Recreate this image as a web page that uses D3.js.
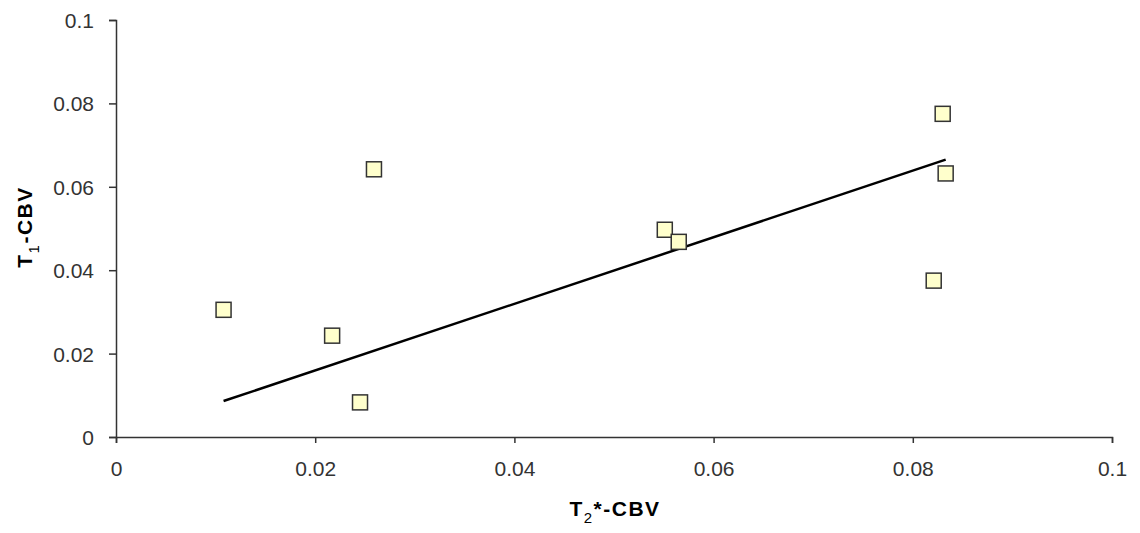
<!DOCTYPE html>
<html>
<head>
<meta charset="utf-8">
<script src="https://cdn.jsdelivr.net/npm/d3@7"></script>
<style>
  html, body { margin: 0; padding: 0; background: #fff; }
  svg { display: block; }
  text { font-family: "Liberation Sans", Arial, sans-serif; }
</style>
</head>
<body>
<svg id="chart" width="1140" height="533"></svg>
<script>
// Data
const xValues = [0.0108, 0.0217, 0.0245, 0.0259, 0.0551, 0.0565, 0.0821, 0.0830, 0.0833];
const yValues = [0.0305, 0.0243, 0.0083, 0.0642, 0.0497, 0.0468, 0.0375, 0.0775, 0.0632];
const xTicks = [0, 0.02, 0.04, 0.06, 0.08, 0.1];
const yTicks = [0, 0.02, 0.04, 0.06, 0.08, 0.1];
const xTickLabels = ["0", "0.02", "0.04", "0.06", "0.08", "0.1"];
const yTickLabels = ["0", "0.02", "0.04", "0.06", "0.08", "0.1"];

const svg = d3.select("#chart");
const pLeft = 116, pRight = 1112, pTop = 20, pBottom = 437;

const x = d3.scaleLinear().domain([0, 0.1]).range([pLeft, pRight]);
const y = d3.scaleLinear().domain([0, 0.1]).range([pBottom, pTop]);

// Axes
const xAxis = d3.axisBottom(x).tickValues(xTicks).tickSize(6).tickPadding(18)
  .tickFormat((d, i) => xTickLabels[i]);
const yAxis = d3.axisLeft(y).tickValues(yTicks).tickSize(7).tickPadding(15)
  .tickFormat((d, i) => yTickLabels[i]);

const gx = svg.append("g").attr("transform", `translate(0,${pBottom})`).call(xAxis);
const gy = svg.append("g").attr("transform", `translate(${pLeft},0)`).call(yAxis);

[gx, gy].forEach(g => {
  g.select(".domain").attr("stroke", "#333").attr("stroke-width", 1.5);
  g.selectAll(".tick line").attr("stroke", "#333").attr("stroke-width", 1.5);
  g.selectAll(".tick text").attr("fill", "#333").attr("font-size", 21)
    .attr("font-family", "Liberation Sans, Arial, sans-serif");
});
gy.selectAll(".tick text").attr("dy", "0.36em");

// Trend line: least squares through the origin
const data = xValues.map((v, i) => ({ x: v, y: yValues[i] }));
const sxy = d3.sum(data, d => d.x * d.y);
const sxx = d3.sum(data, d => d.x * d.x);
const slope = sxy / sxx;
const [xmin, xmax] = d3.extent(xValues);
const line = d3.line().x(d => x(d[0])).y(d => y(d[1]));
svg.append("path")
  .attr("d", line([[xmin, slope * xmin], [xmax, slope * xmax]]))
  .attr("fill", "none")
  .attr("stroke", "#000")
  .attr("stroke-width", 2.5);

// Markers
const size = 15;
svg.append("g").selectAll("rect").data(data).join("rect")
  .attr("x", d => x(d.x) - size / 2)
  .attr("y", d => y(d.y) - size / 2)
  .attr("width", size)
  .attr("height", size)
  .attr("fill", "#FFFFCC")
  .attr("stroke", "#333")
  .attr("stroke-width", 1.5);

// Axis titles
const xt = svg.append("text")
  .attr("x", 615)
  .attr("y", 516)
  .attr("text-anchor", "middle")
  .attr("font-size", 21)
  .attr("font-weight", "bold")
  .attr("letter-spacing", 1.5)
  .attr("fill", "#000");
xt.append("tspan").text("T");
xt.append("tspan").text("2").attr("font-size", 15).attr("font-weight", "normal").attr("dy", 7);
xt.append("tspan").text("*-CBV").attr("dy", -7);

const yt = svg.append("text")
  .attr("transform", `translate(32,227) rotate(-90)`)
  .attr("text-anchor", "middle")
  .attr("font-size", 21)
  .attr("font-weight", "bold")
  .attr("letter-spacing", 1.5)
  .attr("fill", "#000");
yt.append("tspan").text("T");
yt.append("tspan").text("1").attr("font-size", 15).attr("font-weight", "normal").attr("dy", 7);
yt.append("tspan").text("-CBV").attr("dy", -7);
</script>
</body>
</html>
